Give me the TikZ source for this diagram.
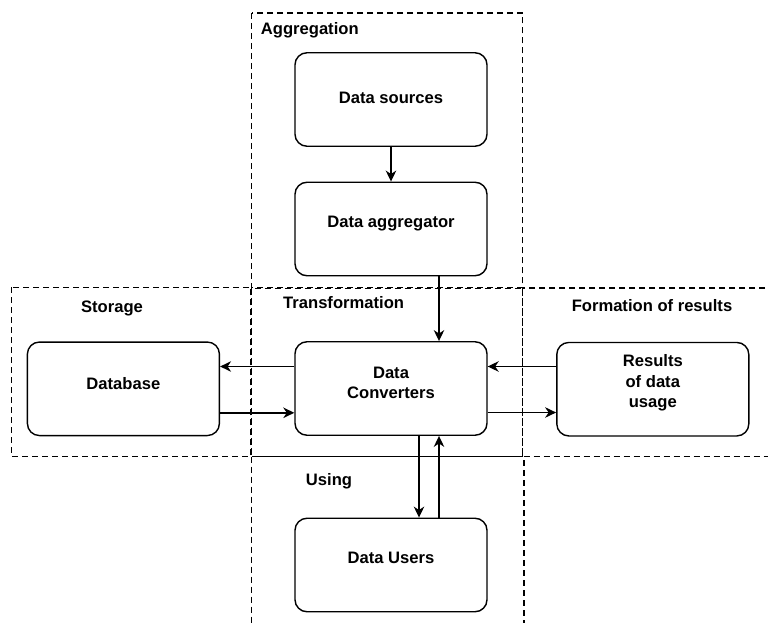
\documentclass[tikz,border=0pt]{standalone}
\usepackage{fontspec}
\setmainfont{Liberation Sans}
\usetikzlibrary{arrows.meta}
\tikzset{
  txt/.style={font=\fontsize{16.6}{20.5}\selectfont\bfseries, align=center, inner sep=0pt},
  proc/.style={draw=black, line width=1.4pt, rounded corners=12pt,
    minimum width=192pt, minimum height=93.5pt, inner sep=0pt},
  group/.style={draw=black, line width=1.4pt, dash pattern=on 6pt off 4pt},
  arr/.style={draw=black, line width=1.4pt, -{Stealth[length=11pt,width=10.5pt,inset=3.5pt]}}
}
\begin{document}
\begin{tikzpicture}[x=1pt,y=-1pt]
\useasboundingbox (0,0) rectangle (768,623);
\clip (0,0) rectangle (768,623);
\fill[white] (0,0) rectangle (768,623);

% stage regions
\draw[group] (251.7,13) rectangle (522.7,287.7);
\draw[group] (11.7,287.3) rectangle (251,456.7);
\draw[group] (251.7,288.3) rectangle (522.7,456.7);
\draw[group] (522.3,288) rectangle (790,456.7);
\draw[group] (251.7,456.7) rectangle (524,650);

% region titles
\node[txt, anchor=west] (tAgg) at (260.7,30) {Aggregation};
\node[txt] (tSto) at (112,308) {Storage};
\node[txt, anchor=west] (tTra) at (283,303) {Transformation};
\node[txt] (tFor) at (652,306) {Formation of results};
\node[txt] (tUse) at (329,481.7) {Using};

% process boxes
\node[proc] (src) at (391,99.5) {};
\node[proc] (agg) at (391,229) {};
\node[proc] (conv) at (391,388.5) {};
\node[proc] (db) at (123.4,388.8) {};
\node[proc] (res) at (652.8,389.2) {};
\node[proc] (usr) at (391,565) {};

\node[txt] at ([yshift=1.5pt]src.center) {Data sources};
\node[txt] at ([yshift=5pt]agg.center) {Data aggregator};
\node[txt] at ([yshift=5.5pt]conv.center) {Data\\Converters};
\node[txt] at ([yshift=5.5pt]db.center) {Database};
\node[txt] at ([yshift=6pt]res.center) {Results\\of data\\usage};
\node[txt] at ([yshift=7pt]usr.center) {Data Users};

% connectors
\draw[arr] (src.south) -- (agg.north);
\draw[arr] ([xshift=48pt]agg.south) -- ([xshift=48pt]conv.north);
\draw[arr] ([yshift=22pt]conv.west) -- ([yshift=22pt]conv.west -| db.east);
\draw[arr] ([yshift=-24pt]db.east) -- ([yshift=-24pt]db.east -| conv.west);
\draw[arr] ([yshift=22pt]conv.east -| res.west) -- ([yshift=22pt]conv.east);
\draw[arr] ([yshift=-24pt]conv.east) -- ([yshift=-24pt]conv.east -| res.west);
\draw[arr] ([xshift=28pt]conv.south) -- ([xshift=28pt]conv.south |- usr.north);
\draw[arr] ([xshift=48pt]usr.north) -- ([xshift=48pt]usr.north |- conv.south);
\end{tikzpicture}
\end{document}
